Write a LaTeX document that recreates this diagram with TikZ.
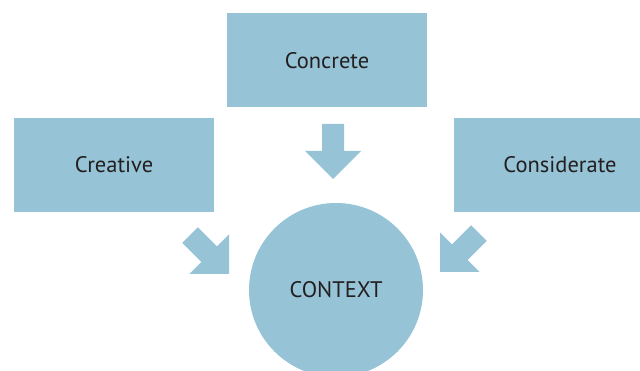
\documentclass[tikz,border=0pt]{standalone}
\usepackage{fontspec}
\setmainfont{PT Sans}
\usetikzlibrary{calc}
\definecolor{paleblue}{RGB}{150,196,214}
\definecolor{ink}{RGB}{35,31,32}

\begin{document}
\begin{tikzpicture}
	\tikzstyle{box}=[rectangle, fill=paleblue, minimum width=5cm, minimum height=2.35cm, text=ink, font=\fontsize{16}{19}\selectfont]
	\tikzstyle{hub}=[circle, fill=paleblue, minimum size=4.35cm, text=ink, font=\fontsize{16}{19}\selectfont]
	\tikzset{pointer/.pic={\fill[paleblue] (-1.375,-0.275) -- (-0.7,-0.275) -- (-0.7,-0.7) -- (0,0) -- (-0.7,0.7) -- (-0.7,0.275) -- (-1.375,0.275) -- cycle;}}

	\clip (0,0) rectangle (16,9.275);
	\node [box] (concrete) at (8.175,7.7625) {Concrete};
	\node [box] (creative) at (2.85,5.15) {Creative};
	\node [box, minimum width=5.3cm] (considerate) at (14,5.15) {Considerate};
	\node [hub] (context) at (8.4,2.025) {CONTEXT};

	\pic [rotate=-90] at ($(context)+(-0.075,2.775)$) {pointer};
	\pic [rotate=-45] at ($(context)+(-2.675,0.4)$) {pointer};
	\pic [rotate=-135] at ($(context)+(2.6,0.45)$) {pointer};
\end{tikzpicture}
\end{document}
